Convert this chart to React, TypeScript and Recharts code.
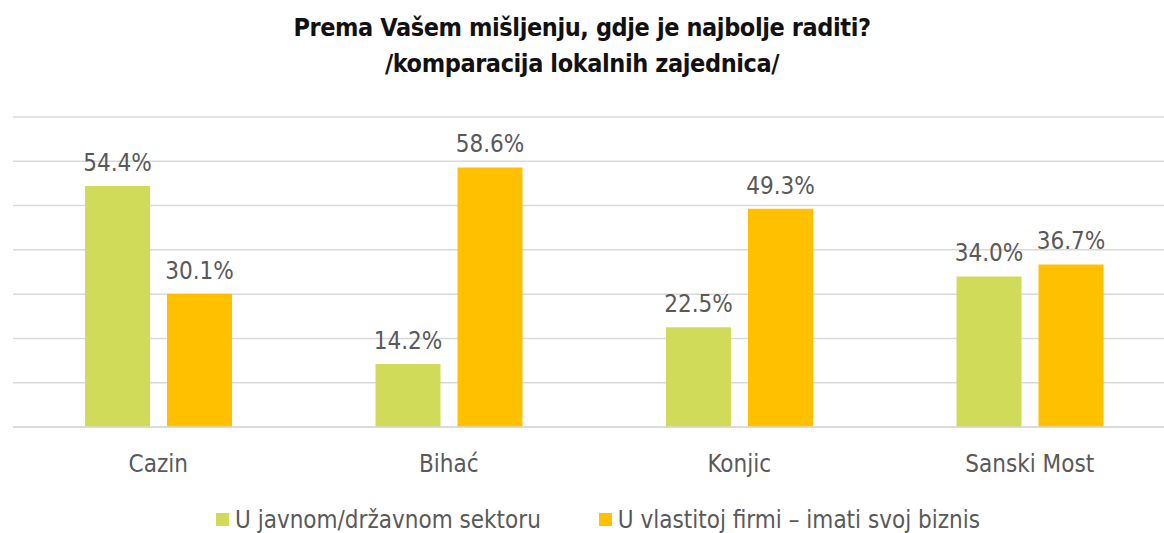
import React from "react";
import {
  BarChart,
  Bar,
  XAxis,
  YAxis,
  CartesianGrid,
  Legend,
  LabelList,
} from "recharts";

const CATEGORIES = ["Cazin", "Bihać", "Konjic", "Sanski Most"];
const PUBLIC_SECTOR = [54.4, 14.2, 22.5, 34.0];
const OWN_BUSINESS = [30.1, 58.6, 49.3, 36.7];
const Y_TICKS = [0, 10, 20, 30, 40, 50, 60, 70];

const SERIES_NAMES = ["U javnom/državnom sektoru", "U vlastitoj firmi – imati svoj biznis"];
const GREEN = "#D0DC59";
const ORANGE = "#FFC000";
const FONT = "'Liberation Sans Narrow', 'DejaVu Sans Condensed', Roboto, sans-serif";

const data = CATEGORIES.map((name, i) => ({
  name,
  publicSector: PUBLIC_SECTOR[i],
  ownBusiness: OWN_BUSINESS[i],
}));

const fmt = (v: number) => `${v.toFixed(1)}%`;

const CustomLegend = () => (
  <div
    style={{
      display: "flex",
      justifyContent: "center",
      alignItems: "center",
      height: 50,
      paddingTop: 23,
      paddingLeft: 32,
      boxSizing: "border-box",
      fontFamily: FONT,
      fontSize: 24,
      lineHeight: "26px",
      color: "#595959",
      whiteSpace: "nowrap",
    }}
  >
    {[GREEN, ORANGE].map((c, i) => (
      <div key={i} style={{ display: "flex", alignItems: "center", marginRight: i === 0 ? 58 : 0 }}>
        <span style={{ width: 13, height: 13, background: c, display: "inline-block", marginRight: 6 }} />
        <span>{SERIES_NAMES[i]}</span>
      </div>
    ))}
  </div>
);

export default function App() {
  return (
    <div
      style={{
        position: "absolute",
        left: 0,
        top: 0,
        width: 1164,
        height: 533,
        overflow: "hidden",
        background: "#fff",
      }}
    >
      <div
        style={{
          position: "absolute",
          top: 10,
          left: 0,
          width: 1164,
          textAlign: "center",
          fontFamily: FONT,
          fontWeight: "bold",
          fontSize: 25,
          letterSpacing: -0.4,
          lineHeight: "36px",
          color: "#111",
        }}
      >
        Prema Vašem mišljenju, gdje je najbolje raditi?
        <br />
        /komparacija lokalnih zajednica/
      </div>
      <BarChart
        width={1185}
        height={533}
        data={data}
        margin={{ top: 117, right: 10, left: 13, bottom: 0 }}
        barCategoryGap={72}
        barGap={17}
      >
        <CartesianGrid vertical={false} stroke="#D9D9D9" strokeWidth={1.5} />
        <YAxis hide domain={[0, 70]} ticks={Y_TICKS} />
        <XAxis
          dataKey="name"
          height={56}
          tickLine={false}
          axisLine={{ stroke: "#D9D9D9", strokeWidth: 1.5 }}
          tickMargin={22}
          tick={{ fill: "#595959", fontSize: 24, fontFamily: FONT }}
        />
        <Legend verticalAlign="bottom" content={<CustomLegend />} wrapperStyle={{ left: 0, width: 1164 }} />
        <Bar dataKey="publicSector" name={SERIES_NAMES[0]} fill={GREEN} barSize={65} isAnimationActive={false}>
          <LabelList
            dataKey="publicSector"
            position="top"
            offset={15}
            formatter={(v: any) => fmt(Number(v))}
            style={{ fill: "#595959", fontSize: 24, fontFamily: FONT }}
          />
        </Bar>
        <Bar dataKey="ownBusiness" name={SERIES_NAMES[1]} fill={ORANGE} barSize={65} isAnimationActive={false}>
          <LabelList
            dataKey="ownBusiness"
            position="top"
            offset={15}
            formatter={(v: any) => fmt(Number(v))}
            style={{ fill: "#595959", fontSize: 24, fontFamily: FONT }}
          />
        </Bar>
      </BarChart>
    </div>
  );
}
